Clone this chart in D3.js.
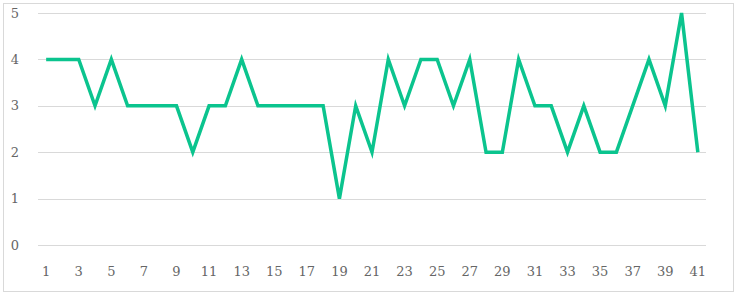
<!DOCTYPE html>
<html>
<head>
<meta charset="utf-8">
<script src="https://cdn.jsdelivr.net/npm/d3@7"></script>
<style>
  body { margin: 0; background: #fff; }
  svg { display: block; }
</style>
</head>
<body>
<div id="chart"></div>
<script>
var categories = d3.range(1, 42);
var values = [4, 4, 4, 3, 4, 3, 3, 3, 3, 2, 3, 3, 4, 3, 3, 3, 3, 3, 1, 3, 2, 4, 3, 4, 4, 3, 4, 2, 2, 4, 3, 3, 2, 3, 2, 2, 3, 4, 3, 5, 2];
var yTicks = [0, 1, 2, 3, 4, 5];
var xTickLabels = categories.filter(function(d) { return d % 2 === 1; });

var width = 737, height = 295;
var margin = {top: 13, right: 31, bottom: 50, left: 38};

var svg = d3.select("#chart").append("svg")
    .attr("width", width)
    .attr("height", height);

// outer frame
svg.append("rect")
    .attr("x", 3.5).attr("y", 3.5)
    .attr("width", width - 7).attr("height", height - 7)
    .attr("fill", "#fff")
    .attr("stroke", "#d9d9d9");

var x = d3.scalePoint()
    .domain(categories)
    .range([margin.left, width - margin.right])
    .padding(0.5);

var y = d3.scaleLinear()
    .domain([0, 5])
    .range([height - margin.bottom, margin.top]);

// gridlines
svg.append("g")
    .selectAll("line")
    .data(yTicks)
    .enter().append("line")
    .attr("x1", margin.left)
    .attr("x2", width - margin.right)
    .attr("y1", function(d) { return Math.round(y(d)) + 0.5; })
    .attr("y2", function(d) { return Math.round(y(d)) + 0.5; })
    .attr("stroke", "#d9d9d9")
    .attr("stroke-width", 1);

// y labels
svg.append("g")
    .selectAll("text")
    .data(yTicks)
    .enter().append("text")
    .attr("x", 19)
    .attr("y", function(d) { return y(d); })
    .attr("dy", "0.35em")
    .attr("text-anchor", "end")
    .style("font-family", "'DejaVu Serif', serif")
    .style("font-size", "13px")
    .style("fill", "#666")
    .text(function(d) { return d; });

// x labels
svg.append("g")
    .selectAll("text")
    .data(xTickLabels)
    .enter().append("text")
    .attr("x", function(d) { return x(d); })
    .attr("y", 276)
    .attr("text-anchor", "middle")
    .style("font-family", "'DejaVu Serif', serif")
    .style("font-size", "13px")
    .style("fill", "#666")
    .text(function(d) { return d; });

var line = d3.line()
    .x(function(d, i) { return x(categories[i]); })
    .y(function(d) { return y(d); });

svg.append("path")
    .datum(values)
    .attr("d", line)
    .attr("fill", "none")
    .attr("stroke", "#0bc48e")
    .attr("stroke-width", 3.5)
    .attr("stroke-linejoin", "miter");
</script>
</body>
</html>
